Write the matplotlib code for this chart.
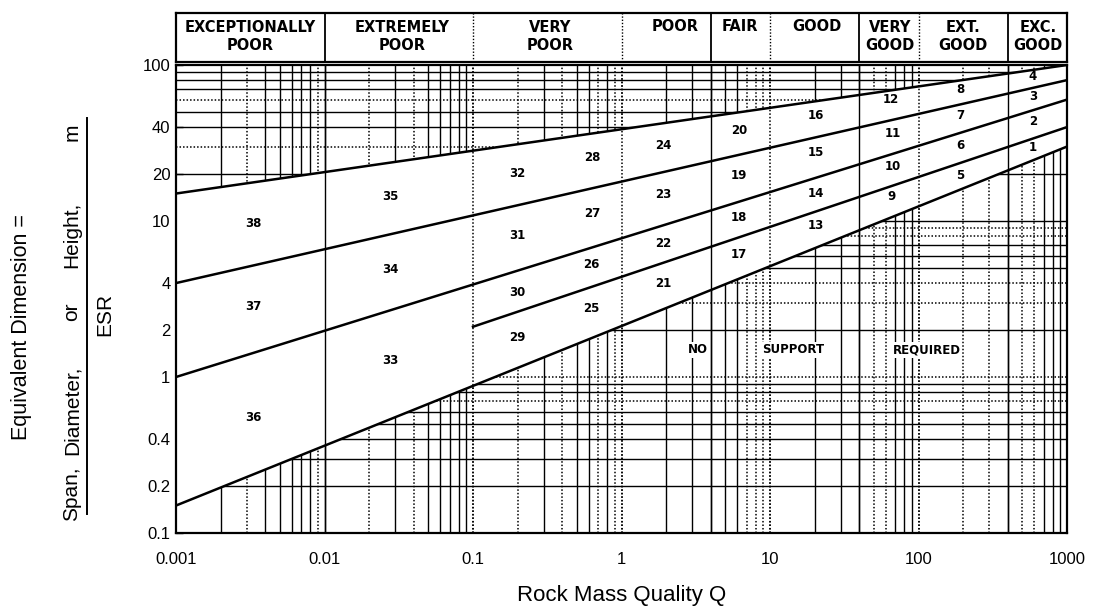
import numpy as np
import matplotlib
matplotlib.use('Agg')
import matplotlib.pyplot as plt
from matplotlib.lines import Line2D
from matplotlib.ticker import FixedLocator, FixedFormatter, NullLocator

plt.rcParams['font.family'] = ['Liberation Sans', 'DejaVu Sans']

# support category boundaries, straight lines in log-log (end points)
q_ends = [0.001, 1000]
top_line = [15, 100]
line_b = [4, 80]
line_c = [1, 60]
bottom_line = [0.15, 30]
q_short = [0.1, 1000]
line_d = [2.1, 40]

# rock mass classes on top
class_names = ['EXCEPTIONALLY\nPOOR', 'EXTREMELY\nPOOR', 'VERY\nPOOR', 'POOR', 'FAIR',
               'GOOD', 'VERY\nGOOD', 'EXT.\nGOOD', 'EXC.\nGOOD']
class_q = [0.00315, 0.0333, 0.33, 2.29, 6.3, 20.7, 64, 200, 638]
class_edges = [0.01, 0.1, 1, 4, 10, 40, 100, 400]
edge_dotted = [False, True, True, False, True, False, True, False]

# support category numbers
cat_num = [1, 2, 3, 4, 5, 6, 7, 8, 9, 10, 11, 12, 13, 14, 15, 16, 17, 18, 19,
           20, 21, 22, 23, 24, 25, 26, 27, 28, 29, 30, 31, 32, 33, 34, 35, 36, 37, 38]
cat_q = [590, 590, 590, 590, 190, 190, 190, 190, 66, 67, 67, 65, 20.4, 20.4, 20.4, 20.4,
         6.2, 6.2, 6.2, 6.2, 1.9, 1.9, 1.9, 1.9, 0.63, 0.63, 0.64, 0.64, 0.2, 0.2, 0.2, 0.2,
         0.0276, 0.0276, 0.0276, 0.0033, 0.0033, 0.0033]
cat_d = [29.8, 43.2, 62.4, 84, 19.7, 30.3, 47.7, 70, 14.3, 22.2, 36.6, 59.7, 9.4, 15.1, 27.3, 47.7,
         6.1, 10.6, 19.7, 38.3, 4.0, 7.2, 14.7, 30.7, 2.73, 5.3, 11.1, 25.7, 1.8, 3.5, 8.1, 20.3,
         1.28, 4.9, 14.3, 0.55, 2.85, 9.7]

x_ticks = [0.001, 0.01, 0.1, 1, 10, 100, 1000]
x_ticklabels = ['0.001', '0.01', '0.1', '1', '10', '100', '1000']
y_ticks = [0.1, 0.2, 0.4, 1, 2, 4, 10, 20, 40, 100]
y_ticklabels = ['0.1', '0.2', '0.4', '1', '2', '4', '10', '20', '40', '100']

W, H = 1096, 608
fig = plt.figure(figsize=(W / 100, H / 100), dpi=100)
ax = fig.add_axes([176 / W, 1 - 533 / H, (1067 - 176) / W, (533 - 65) / H])
ax.set_xscale('log')
ax.set_yscale('log')
ax.set_xlim(0.001, 1000)
ax.set_ylim(0.1, 100)

# log paper grid
dotted_x = [0.003, 0.009, 0.02, 0.04, 0.1, 0.2, 0.4, 0.7, 0.9, 1, 7, 8, 9, 10,
            50, 60, 100, 200, 300, 500, 600]
dotted_y = [60, 30, 9, 8, 4, 3, 1, 0.7]
for k in range(-3, 3):
    for m in range(1, 10):
        v = m * 10.0 ** k
        if v <= 0.001:
            continue
        dot = any(np.isclose(v, d) for d in dotted_x)
        ax.axvline(v, color='black', lw=1.1 if dot else 1.0,
                   ls=(0, (1, 1.3)) if dot else '-', zorder=1)
for k in range(-1, 2):
    for m in range(1, 10):
        v = m * 10.0 ** k
        if v <= 0.1:
            continue
        dot = any(np.isclose(v, d) for d in dotted_y)
        ax.axhline(v, color='black', lw=1.1 if dot else 1.0,
                   ls=(0, (1, 1.3)) if dot else '-', zorder=1)

# white band where support is required
ax.fill([q_ends[0], q_ends[1], q_ends[1], q_ends[0]],
        [top_line[0], top_line[1], bottom_line[1], bottom_line[0]],
        color='white', lw=0, zorder=2)

for q, dot in zip(class_edges, edge_dotted):
    ax.axvline(q, color='black', lw=1.1 if dot else 1.0,
               ls=(0, (1, 1.3)) if dot else '-', zorder=2.5)

for yy in (top_line, line_b, line_c, bottom_line):
    ax.plot(q_ends, yy, color='black', lw=1.8, zorder=3)
ax.plot(q_short, line_d, color='black', lw=1.8, zorder=3)

for n, q, d in zip(cat_num, cat_q, cat_d):
    ax.text(q, d, str(n), fontsize=8.5, fontweight='bold', family='DejaVu Sans',
            ha='center', va='center', zorder=4)

for q, word in zip([3.27, 14.3, 114], ['NO', 'SUPPORT', 'REQUIRED']):
    ax.text(q, 1.49, word, fontsize=8.5, fontweight='bold', family='DejaVu Sans',
            ha='center', va='center', zorder=4,
            bbox=dict(facecolor='white', edgecolor='none', pad=1))

ax.xaxis.set_major_locator(FixedLocator(x_ticks))
ax.xaxis.set_major_formatter(FixedFormatter(x_ticklabels))
ax.xaxis.set_minor_locator(NullLocator())
ax.tick_params(axis='x', which='both', length=0, pad=14, labelsize=12)
ax.yaxis.set_major_locator(FixedLocator(y_ticks))
ax.yaxis.set_major_formatter(FixedFormatter(y_ticklabels))
ax.yaxis.set_minor_locator(FixedLocator([3, 5, 6, 7, 8, 9, 0.3, 0.5, 0.6, 0.7, 0.8, 0.9]))
ax.tick_params(axis='y', which='both', direction='in', length=5, width=1,
               pad=4, labelsize=12, right=False)
for s in ax.spines.values():
    s.set_linewidth(1.6)
    s.set_zorder(5)

# class header
hax = fig.add_axes([176 / W, 1 - 62 / H, (1067 - 176) / W, (62 - 13) / H])
hax.set_xscale('log')
hax.set_xlim(0.001, 1000)
hax.set_ylim(0, 1)
hax.set_xticks([])
hax.set_yticks([])
hax.xaxis.set_minor_locator(NullLocator())
for s in hax.spines.values():
    s.set_linewidth(1.6)
for q, dot in zip(class_edges, edge_dotted):
    hax.axvline(q, color='black', lw=1.0 if dot else 1.3,
                ls=(0, (1, 1.3)) if dot else '-')
for name, q in zip(class_names, class_q):
    yy = 0.52 if '\n' in name else 0.73
    hax.text(q, yy, name, fontsize=10.5, fontweight='bold', family='DejaVu Sans',
             ha='center', va='center', linespacing=1.2)

# axis titles
ax.set_xlabel('Rock Mass Quality Q', fontsize=16, labelpad=13)
fig.text(22 / W, 1 - 327 / H, 'Equivalent Dimension =', rotation=90,
         ha='center', va='center', fontsize=15.5)
for word, yc in zip(['Span,', 'Diameter,', 'or', 'Height,', 'm'], [494, 410, 312, 235, 132]):
    fig.text(72 / W, 1 - yc / H, word, rotation=90, ha='center', va='center', fontsize=15)
fig.add_artist(Line2D([87 / W, 87 / W], [1 - 118 / H, 1 - 514 / H], color='black', lw=1.4))
fig.text(105 / W, 1 - 314 / H, 'ESR', rotation=90, ha='center', va='center', fontsize=15)

fig.savefig('out.png', dpi=100)
